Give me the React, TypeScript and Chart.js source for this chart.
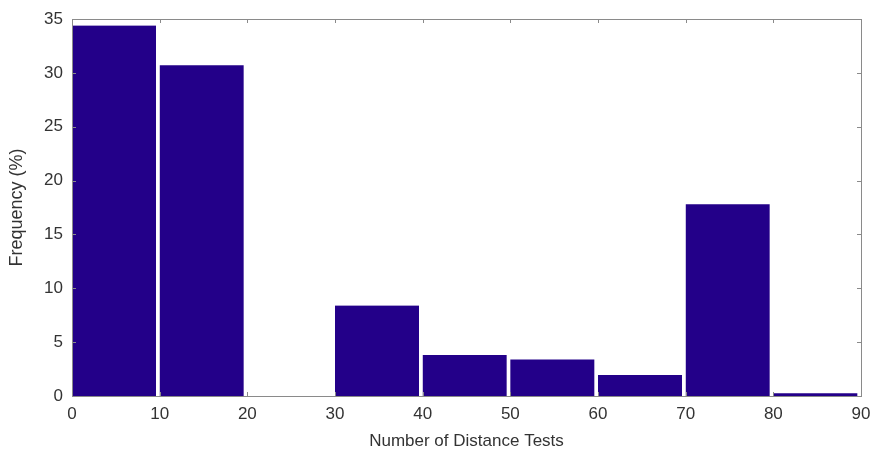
import React, { useEffect, useRef } from "react";
import { Chart, registerables } from "chart.js";

Chart.register(...registerables);

const binCenters = [5, 15, 25, 35, 45, 55, 65, 75, 85];
const frequencies = [34.4, 30.7, 0, 8.4, 3.8, 3.4, 1.95, 17.8, 0.25];
const xTicks = [0, 10, 20, 30, 40, 50, 60, 70, 80, 90];
const yTicks = [0, 5, 10, 15, 20, 25, 30, 35];

const boxPlugin = {
  id: "matlabBox",
  afterDatasetsDraw(chart: any) {
    const { ctx, chartArea, scales } = chart;
    const { left, right, top, bottom } = chartArea;
    ctx.save();
    ctx.strokeStyle = "#8a8a8a";
    ctx.lineWidth = 1;
    ctx.beginPath();
    const tl = 4;
    for (const v of xTicks) {
      const x = Math.round(scales.x.getPixelForValue(v)) + 0.5;
      ctx.moveTo(x, bottom);
      ctx.lineTo(x, bottom - tl);
      ctx.moveTo(x, top);
      ctx.lineTo(x, top + tl);
    }
    for (const v of yTicks) {
      const y = Math.round(scales.y.getPixelForValue(v)) + 0.5;
      ctx.moveTo(left, y);
      ctx.lineTo(left + tl, y);
      ctx.moveTo(right, y);
      ctx.lineTo(right - tl, y);
    }
    ctx.stroke();
    ctx.strokeRect(Math.round(left) + 0.5, Math.round(top) + 0.5, Math.round(right - left), Math.round(bottom - top));
    ctx.restore();
  },
};

export default function App() {
  const ref = useRef<HTMLCanvasElement>(null);
  useEffect(() => {
    if (!ref.current) return;
    const family = "'Liberation Sans', Arial, sans-serif";
    const font = { family, size: 17 };
    const chart = new Chart(ref.current, {
      type: "bar",
      data: {
        datasets: [
          {
            data: binCenters.map((x, i) => ({ x, y: frequencies[i] })),
            backgroundColor: "#230089",
            borderColor: "#ffffff",
            borderWidth: { top: 0, left: 0, bottom: 0, right: 4 },
            borderSkipped: false,
            categoryPercentage: 1,
            barPercentage: 1,
          },
        ],
      },
      options: {
        animation: false,
        responsive: false,
        maintainAspectRatio: false,
        layout: { padding: { left: 0, top: 19, right: 11, bottom: 0 } },
        plugins: { legend: { display: false }, tooltip: { enabled: false } },
        scales: {
          x: {
            type: "linear",
            offset: false,
            min: 0,
            max: 90,
            grid: { display: false, drawTicks: false },
            border: { display: false },
            ticks: {
              stepSize: 10,
              color: "#333",
              font,
              padding: 8,
              maxRotation: 0,
            },
            title: {
              display: true,
              text: "Number of Distance Tests",
              color: "#333",
              font,
              padding: { top: -3, bottom: 0 },
            },
            afterFit(scale: any) {
              scale.height = 56;
              scale.paddingLeft = 0;
              scale.paddingRight = 0;
            },
          },
          y: {
            min: 0,
            max: 35,
            grid: { display: false, drawTicks: false },
            border: { display: false },
            ticks: { stepSize: 5, color: "#333", font, padding: 9 },
            title: {
              display: true,
              text: "Frequency (%)",
              color: "#333",
              font: { family, size: 18 },
              padding: { top: 6, bottom: 4 },
            },
            afterFit(scale: any) {
              scale.width = 72;
              scale.paddingTop = 0;
              scale.paddingBottom = 0;
            },
          },
        },
      },
      plugins: [boxPlugin],
    } as any);
    return () => chart.destroy();
  }, []);
  return (
    <div style={{ position: "fixed", left: 0, top: 0, width: 872, height: 452, background: "#fff" }}>
      <canvas ref={ref} width={872} height={452} style={{ display: "block" }} />
    </div>
  );
}
